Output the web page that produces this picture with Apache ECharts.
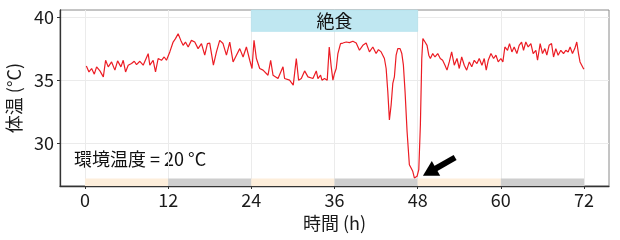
<!DOCTYPE html>
<html>
<head>
<meta charset="utf-8">
<script src="https://cdn.jsdelivr.net/npm/echarts@6/dist/echarts.min.js"></script>
<style>html,body{margin:0;padding:0;background:#fff}#c{width:620px;height:240px}</style>
</head>
<body>
<div id="c"></div>
<script>
// ---- data ----
const times = [0.2,0.58,0.96,1.35,1.68,2.16,2.65,2.98,3.36,3.84,4.32,4.71,5.19,5.52,5.86,6.24,6.72,7.11,7.44,7.92,8.40,9.12,9.36,9.84,10.18,10.56,11.04,11.43,11.76,
12.24,12.72,13.06,13.44,13.83,14.16,14.50,14.89,15.36,15.84,16.32,16.81,17.28,17.67,18.00,18.53,18.97,19.44,19.92,20.41,20.89,21.37,21.85,22.33,22.81,23.29,23.77,
24.10,24.39,24.73,25.21,25.69,26.41,26.79,27.13,27.85,28.57,28.80,29.52,30.05,30.49,30.82,31.21,31.69,32.17,32.89,33.37,33.61,33.99,34.19,34.56,34.95,35.24,35.53,35.77,
36.0,36.25,36.49,36.87,37.21,37.69,38.16,38.65,39.13,39.6,40.09,40.57,41.04,41.53,42.0,42.34,42.73,43.2,43.45,43.69,43.92,44.17,44.41,44.64,44.89,45.13,45.46,45.71,45.94,
46.18,46.47,46.8,47.05,47.29,47.52,47.91,48.16,48.39,48.59,48.75,49.06,49.35,49.6,49.83,50.17,50.5,50.89,51.26,51.6,51.94,52.23,52.56,52.9,53.28,53.67,54.0,54.35,54.72,
55.07,55.45,55.8,56.16,56.55,56.88,57.27,57.6,57.89,58.18,58.57,58.95,59.29,59.62,60.0,60.29,60.58,60.96,61.25,61.59,61.92,62.31,62.64,62.99,63.27,63.6,63.94,64.33,64.66,
65.05,65.29,65.67,66.01,66.35,66.63,66.96,67.31,67.6,67.93,68.26,68.65,69.04,69.37,69.7,69.99,70.33,70.66,70.95,71.2,71.42,71.62,71.91,72.0];
const temps = [36.13,35.66,35.93,35.48,36.06,35.74,35.27,36.58,36.06,36.45,35.8,36.53,36.06,36.58,35.66,36.19,36.32,36.5,36.24,36.5,36.19,37.1,36.19,36.58,35.66,36.72,36.58,36.84,36.58,
37.24,38.02,38.29,38.68,38.15,37.76,38.02,37.63,38.15,38.02,37.5,37.9,36.98,37.9,37.94,36.19,37.24,38.15,37.9,36.98,38.02,36.45,36.98,37.5,36.84,37.63,36.58,
35.93,38.15,36.72,35.93,35.8,35.4,36.58,35.4,35.14,36.06,35.14,35.01,34.62,36.72,35.01,35.14,35.74,35.27,35.14,35.74,35.14,35.4,35.01,35.14,35.01,37.63,36.06,35.01,
35.54,35.93,37.11,37.9,37.94,38.02,37.97,38.08,37.94,37.37,37.76,37.94,37.24,37.63,37.11,37.42,37.24,36.72,35.93,34.09,31.87,33.05,34.75,35.27,36.98,37.5,37.5,37.11,36.19,
34.09,30.95,28.33,28.07,27.81,27.29,27.42,27.94,31.48,36.72,38.29,38.02,37.76,36.98,36.72,37.11,36.84,37.11,36.72,36.58,36.19,35.8,36.45,37.24,36.19,36.72,35.93,36.84,36.19,
35.8,36.45,36.06,36.58,36.32,36.72,36.19,36.72,35.8,36.58,37.11,36.72,36.98,36.45,36.72,36.45,37.63,37.37,37.9,37.24,37.63,37.11,37.76,38.02,37.37,38.02,37.63,37.9,37.11,
37.37,36.58,37.9,37.11,37.5,36.98,37.76,37.9,36.84,37.5,36.98,37.37,37.11,37.37,37.24,37.63,37.11,37.5,38.02,37.11,36.45,36.32,35.93,35.88];
const xTicks = [0, 12, 24, 36, 48, 60, 72];
const yTicks = [30, 35, 40];
const periodEdges = [0, 12, 24, 36, 48, 60, 72];
const periodPhase = ['light', 'dark', 'light', 'dark', 'light', 'dark'];
const fastPeriod = [24, 48];
const fastLabel = '絶食';
const ambientLabel = '環境温度 = 20 °C';
const arrowFrom = [53.4, 28.9];
const arrowTo = [49.7, 27.75];

// ---- chart ----
const X_MIN = -3.6, X_MAX = 75.6, Y_MIN = 26.65, Y_MAX = 40.55;
const FONT = '"Noto Sans CJK JP", "Noto Sans", sans-serif';
const bandY = 27.25;
const phaseColor = { light: '#fdeedb', dark: '#cecece' };

const chart = echarts.init(document.getElementById('c'), null, { renderer: 'canvas' });
const lineData = times.map((t, i) => [t, temps[i]]);
const bandAreas = periodPhase.map((p, i) => [
  { xAxis: periodEdges[i], yAxis: Y_MIN, itemStyle: { color: phaseColor[p] } },
  { xAxis: periodEdges[i + 1], yAxis: bandY }
]);

chart.setOption({
  animation: false,
  textStyle: { fontFamily: FONT },
  grid: { left: 60, right: 11, top: 10, bottom: 54, outerBoundsMode: 'none', containLabel: false,
          show: true, borderColor: '#8a8a8a', borderWidth: 1, backgroundColor: '#fff' },
  xAxis: {
    type: 'value', min: X_MIN, max: X_MAX,
    name: '時間 (h)', nameLocation: 'middle', nameGap: 21,
    nameTextStyle: { fontSize: 18, color: '#1a1a1a', fontFamily: FONT },
    axisLine: { show: true, onZero: false, lineStyle: { color: '#333', width: 1.3 } },
    axisTick: { show: true, length: 3, customValues: xTicks, lineStyle: { color: '#333' } },
    axisLabel: { customValues: xTicks, fontSize: 18, color: '#1a1a1a', margin: 5, fontFamily: FONT },
    splitLine: { show: true, lineStyle: { color: '#ebebeb', width: 1 } }
  },
  yAxis: {
    type: 'value', min: Y_MIN, max: Y_MAX,
    name: '体温 (°C)', nameLocation: 'middle', nameGap: 29,
    nameTextStyle: { fontSize: 18, color: '#1a1a1a', fontFamily: FONT },
    axisLine: { show: true, onZero: false, lineStyle: { color: '#333', width: 1.3 } },
    axisTick: { show: true, length: 3, customValues: yTicks, lineStyle: { color: '#333' } },
    axisLabel: { customValues: yTicks, fontSize: 18, color: '#1a1a1a', margin: 6, fontFamily: FONT },
    splitLine: { show: true, lineStyle: { color: '#ebebeb', width: 1 } }
  },
  series: [
    {
      type: 'line', data: [], silent: true,
      markArea: {
        silent: true,
        data: bandAreas.concat([[
          { xAxis: fastPeriod[0], yAxis: 38.86, itemStyle: { color: '#bfe7f1', borderColor: '#a8dcea', borderWidth: 0.5 },
            name: fastLabel, label: { show: true, position: 'inside', fontSize: 18, color: '#111', fontFamily: FONT } },
          { xAxis: fastPeriod[1], yAxis: Y_MAX }
        ]])
      }
    },
    {
      type: 'line', data: lineData, showSymbol: false, symbol: 'none',
      lineStyle: { color: '#ec1c24', width: 1.2 }, z: 3,
      markLine: {
        silent: true, symbol: ['none', 'triangle'], symbolSize: [17, 15],
        lineStyle: { color: '#000', width: 6, type: 'solid' },
        label: { show: false },
        data: [[{ coord: arrowFrom }, { coord: arrowTo }]]
      }
    }
  ],
  graphic: [
    { type: 'text', left: 74, top: 150, style: { text: ambientLabel, fontSize: 18, fill: '#111', fontFamily: FONT } }
  ]
});
</script>
</body>
</html>
